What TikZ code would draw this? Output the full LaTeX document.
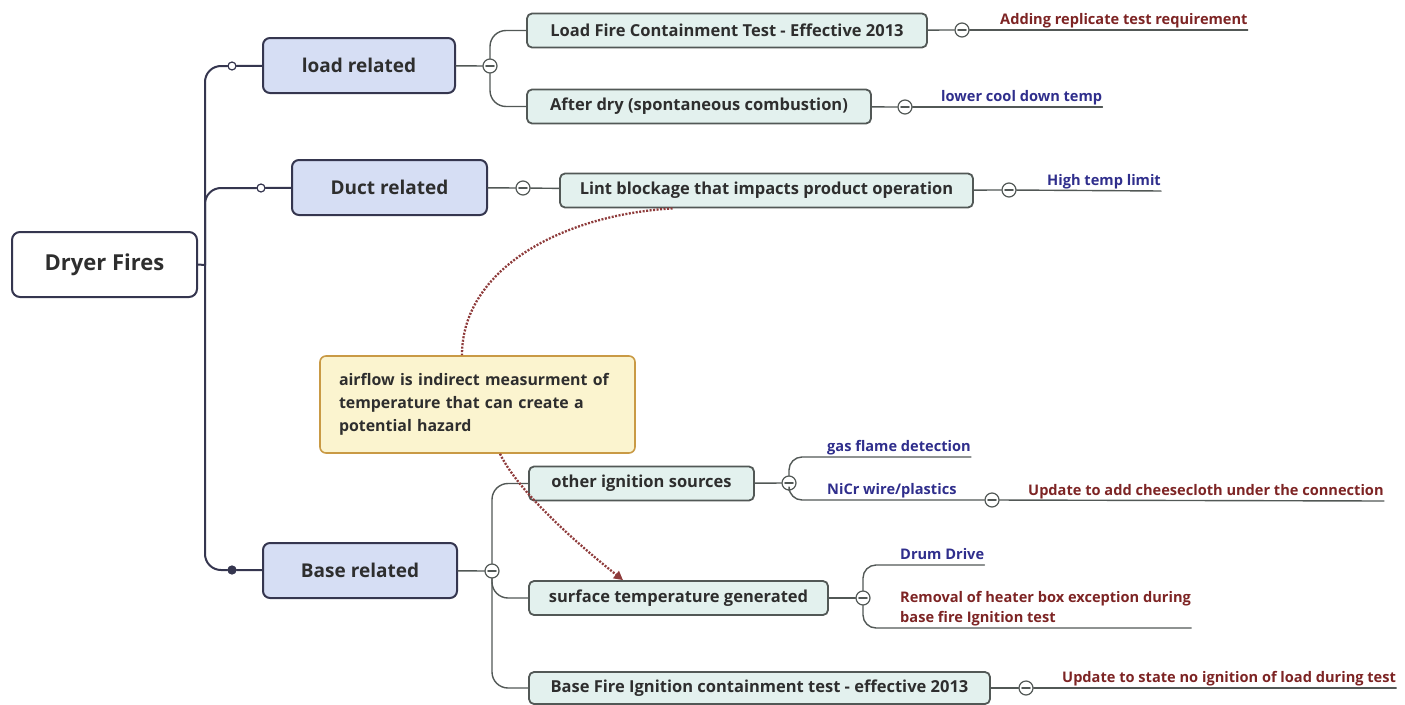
\documentclass[tikz,border=0pt]{standalone}
\usepackage{fontspec}
\setmainfont{Open Sans}
\usetikzlibrary{arrows.meta}
\definecolor{trunk}{HTML}{35364F}
\definecolor{branch}{HTML}{525856}
\definecolor{topicA}{HTML}{D6DEF4}
\definecolor{topicB}{HTML}{E3F1EE}
\definecolor{notefill}{HTML}{FBF4CF}
\definecolor{noteline}{HTML}{C99A45}
\definecolor{redtxt}{HTML}{7D2424}
\definecolor{bluetxt}{HTML}{2F2E8C}
\definecolor{relcol}{HTML}{8E3B3B}
\begin{document}
\begin{tikzpicture}[x=1pt,y=-1pt,line join=round,line cap=round,
		root/.style={draw=trunk,line width=2pt,fill=white,rounded corners=8pt,minimum width=185pt,minimum height=65pt,font=\fontsize{22}{26}\selectfont\bfseries,text=black!82},
		maintopic/.style={draw=trunk,line width=2pt,fill=topicA,rounded corners=7pt,minimum height=55pt,font=\fontsize{19}{23}\selectfont\bfseries,text=black!82},
		subtopic/.style={draw=branch,line width=1.8pt,fill=topicB,rounded corners=5pt,minimum height=34pt,font=\fontsize{16.5}{19}\selectfont\bfseries,text=black!82},
		leaf/.style={anchor=south west,inner xsep=0pt,inner ysep=2pt,text depth=0.3em,font=\fontsize{14.6}{20}\selectfont\bfseries},
		fold/.style={circle,draw=branch,line width=1.2pt,fill=white,minimum size=14pt,inner sep=0pt,path picture={\draw[line width=1.8pt] ([xshift=3pt]path picture bounding box.west)--([xshift=-3pt]path picture bounding box.east);}},
		knob/.style={circle,draw=trunk,line width=1.2pt,fill=white,minimum size=8pt,inner sep=0pt},
		stem/.style={draw=trunk,line width=2pt},
		link/.style={draw=branch,line width=1.4pt},
		relation/.style={draw=relcol,line width=2.3pt,line cap=butt,dash pattern=on 2pt off 1.5pt}]
	\useasboundingbox (0,0) rectangle (1405,704);
	% topics
	\node[root] (dryer) at (104.5,264.5) {Dryer Fires};
	\node[maintopic,minimum width=192pt] (load) at (359,65.5) {load related};
	\node[maintopic,minimum width=195pt] (duct) at (389.5,187.5) {Duct related};
	\node[maintopic,minimum width=194pt] (base) at (360,570.5) {Base related};
	\node[subtopic,minimum width=400pt] (lfct) at (727,30.5) {Load Fire Containment Test - Effective 2013};
	\node[subtopic,minimum width=344pt] (adry) at (699,106.5) {After dry (spontaneous combustion)};
	\node[subtopic,minimum width=413pt] (lint) at (766.5,190.5) {Lint blockage that impacts product operation};
	\node[subtopic,minimum width=225pt] (oign) at (641.5,483.5) {other ignition sources};
	\node[subtopic,minimum width=299pt] (surf) at (678.5,598) {surface temperature generated};
	\node[subtopic,minimum width=461pt,minimum height=32pt] (bfic) at (759.5,688) {Base Fire Ignition containment test - effective 2013};
	% knobs and folds
	\coordinate (hub) at (205,265);
	\node[knob] (kload) at (232,66) {};
	\node[knob] (kduct) at (261,188) {};
	\node[knob,fill=trunk] (kbase) at (232,570) {};
	\node[fold] (f1) at (490,66) {};
	\node[fold] (f2) at (905,107) {};
	\node[fold] (f3) at (523,188) {};
	\node[fold] (f4) at (962,30) {};
	\node[fold] (f5) at (1009,190) {};
	\node[fold] (fb) at (492,571) {};
	\node[fold] (fo) at (789,483) {};
	\node[fold] (fn) at (992,500) {};
	\node[fold] (fs) at (863,598) {};
	\node[fold] (ff) at (1026,688) {};
	% leaves
	\node[leaf,text=redtxt] (adding) at (1000,30) {Adding replicate test requirement};
	\node[leaf,text=bluetxt] (lower) at (941,107) {lower cool down temp};
	\node[leaf,text=bluetxt] (high) at (1047,191) {High temp limit};
	\node[leaf,text=bluetxt] (gas) at (827,457) {gas flame detection};
	\node[leaf,text=bluetxt] (nicr) at (827,500) {NiCr wire/plastics};
	\node[leaf,text=redtxt] (cheese) at (1028,501) {Update to add cheesecloth under the connection};
	\node[leaf,text=bluetxt] (drum) at (900,565) {Drum Drive};
	\node[leaf,text=redtxt,align=left] (remo) at (900,628) {Removal of heater box exception during\\base fire Ignition test};
	\node[leaf,text=redtxt] (state) at (1062,688) {Update to state no ignition of load during test};
	% note
	\node[draw=noteline,line width=1.6pt,fill=notefill,rounded corners=6pt,minimum width=315pt,minimum height=97pt,inner xsep=19pt,text width=277pt,align=left,font=\fontsize{15.9}{23}\selectfont\bfseries,text=black!82] (note) at (477.5,404.5) {airflow is indirect measurment of\\temperature that can create a\\potential hazard};
	% main branches
	\draw[stem] (dryer.east) -- (hub);
	\draw[stem,rounded corners=16pt] (hub) |- (kload);
	\draw[stem,rounded corners=16pt] (hub) |- (kduct);
	\draw[stem,rounded corners=16pt] (hub) |- (kbase);
	\draw[stem] (kload) -- (load);
	\draw[stem] (kduct) -- (duct);
	\draw[stem] (kbase) -- (base);
	% sub branches
	\draw[link] (load) -- (f1);
	\draw[link,rounded corners=16pt] (f1) |- (lfct);
	\draw[link,rounded corners=16pt] (f1) |- (adry);
	\draw[link] (duct) -- (f3);
	\draw[link] (f3) -- (lint);
	\draw[link] (base) -- (fb);
	\draw[link,rounded corners=16pt] (fb) |- (oign);
	\draw[link,rounded corners=16pt] (fb) |- (surf);
	\draw[link,rounded corners=16pt] (fb) |- (bfic);
	% leaf lines
	\draw[link] (lfct) -- (f4);
	\draw[link] (f4) -- (adding.south east);
	\draw[link] (adry) -- (f2);
	\draw[link] (f2) -- (lower.south east);
	\draw[link] (lint) -- (f5);
	\draw[link] (f5) -- (high.south east);
	\draw[link] (oign) -- (fo);
	\draw[link,rounded corners=13pt] (fo) |- (gas.south east);
	\draw[link,rounded corners=13pt] (fo) |- (fn);
	\draw[link] (fn) -- (cheese.south east);
	\draw[link] (surf) -- (fs);
	\draw[link,rounded corners=13pt] (fs) |- (drum.south east);
	\draw[link,rounded corners=13pt] (fs) |- (remo.south east);
	\draw[link] (bfic) -- (ff);
	\draw[link] (ff) -- (state.south east);
	% relationship
	\draw[relation] ([xshift=-94pt]lint.south) .. controls (560,215) and (462,270) .. ([xshift=-15.5pt]note.north);
	\draw[relation,-{Triangle[length=9pt,width=9pt,sep=0pt]}] ([xshift=22.5pt]note.south) .. controls (520,495) and (585,550) .. ([xshift=-55.5pt]surf.north);
\end{tikzpicture}
\end{document}
